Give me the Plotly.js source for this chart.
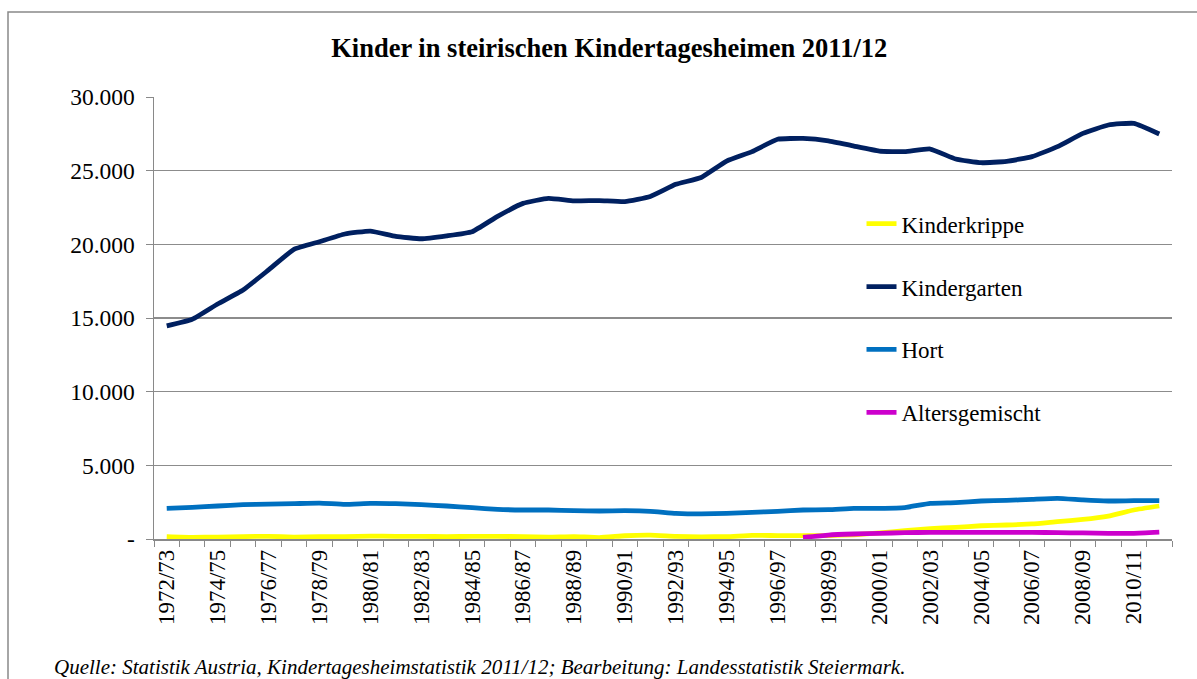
<!DOCTYPE html>
<html>
<head>
<meta charset="utf-8">
<script src="https://cdn.plot.ly/plotly-3.0.1.min.js"></script>
<style>html,body{margin:0;padding:0;background:#fff;}#chart{width:1197px;height:679px;}</style>
</head>
<body>
<div id="chart"></div>
<script>
const years = ["1972/73","1973/74","1974/75","1975/76","1976/77","1977/78","1978/79","1979/80","1980/81","1981/82",
  "1982/83","1983/84","1984/85","1985/86","1986/87","1987/88","1988/89","1989/90","1990/91","1991/92",
  "1992/93","1993/94","1994/95","1995/96","1996/97","1997/98","1998/99","1999/00","2000/01","2001/02",
  "2002/03","2003/04","2004/05","2005/06","2006/07","2007/08","2008/09","2009/10","2010/11","2011/12"];

const kinderkrippe = [160,110,130,160,180,130,160,160,200,180,
  180,160,180,180,160,130,160,100,220,260,
  180,150,160,250,230,230,230,290,410,570,
  700,790,900,950,1020,1180,1330,1560,1970,2240];

const kindergarten = [14460,14910,15950,16900,18260,19660,20180,20700,20900,20540,
  20380,20580,20860,21900,22780,23120,22950,22970,22900,23250,
  24070,24540,25650,26290,27130,27190,27030,26670,26330,26290,
  26470,25790,25540,25630,25950,26630,27530,28100,28210,27490];

const hort = [2080,2150,2240,2330,2370,2400,2440,2350,2420,2400,
  2330,2240,2130,2010,1970,1970,1920,1900,1920,1880,
  1740,1700,1740,1810,1880,1970,1990,2080,2080,2130,
  2420,2470,2580,2620,2690,2760,2650,2580,2600,2600];

const altersgemischt = [null,null,null,null,null,null,null,null,null,null,
  null,null,null,null,null,null,null,null,null,null,
  null,null,null,null,null,110,270,340,385,430,
  450,450,450,450,450,430,410,385,385,460];

const seriesNames = ["Kinderkrippe","Kindergarten","Hort","Altersgemischt"];
const seriesColors = ["#FFFF00","#002060","#0070C0","#CC00CC"];
const yTickVals = [0,5000,10000,15000,20000,25000,30000];
const yTickText = ["-","5.000","10.000","15.000","20.000","25.000","30.000"];
const xTickText = years.map((y,i) => i % 2 === 0 ? y : "");

const serif = "Liberation Serif";
const allSeries = [kinderkrippe, kindergarten, hort, altersgemischt];
const data = allSeries.map((vals, i) => ({
  type: "scatter", mode: "lines", x: years, y: vals, name: seriesNames[i],
  legendgroup: "g" + i,
  line: {color: seriesColors[i], width: 4.8, shape: "spline", smoothing: 0.4},
  connectgaps: false, hoverinfo: "x+y+name"
}));

const layout = {
  width: 1197, height: 679,
  paper_bgcolor: "#fff", plot_bgcolor: "#fff",
  margin: {l: 154, r: 25, t: 97, b: 140},
  font: {family: serif, color: "#000", size: 23},
  title: {text: "<b>Kinder in steirischen Kindertagesheimen 2011/12</b>",
    font: {family: serif, size: 26.5, color: "#000"},
    x: 0.509, xanchor: "center", y: 1 - 48/679, yanchor: "middle", xref: "container", yref: "container"},
  xaxis: {type: "category", tickmode: "array", tickvals: years, ticktext: xTickText,
    tickson: "boundaries", ticks: "outside", ticklen: 6, tickcolor: "#898989", tickwidth: 1,
    tickangle: -90, showgrid: false, showline: true, linecolor: "#898989", linewidth: 1.5,
    tickfont: {family: serif, size: 23, color: "#000"}, range: [-0.5, 39.5], zeroline: false,
    fixedrange: true},
  yaxis: {range: [0, 30000], tickmode: "array", tickvals: yTickVals, ticktext: yTickText,
    ticks: "outside", ticklen: 7, tickcolor: "#898989", showgrid: true, gridcolor: "#8c8c8c", gridwidth: 1.2,
    showline: true, linecolor: "#898989", linewidth: 1.5, zeroline: false,
    tickfont: {family: serif, size: 23.5, color: "#000"}, ticklabelstandoff: 6, fixedrange: true},
  legend: {x: 0.695, xanchor: "left", y: 0.762, yanchor: "top", bgcolor: "rgba(255,255,255,0)",
    font: {family: serif, size: 23, color: "#000"}, tracegroupgap: 30, traceorder: "grouped"},
  shapes: [{type: "rect", xref: "paper", yref: "paper",
    x0: (8 - 154) / 1018, x1: 1.2, y0: -0.4, y1: (539 - 12) / 442,
    line: {color: "#898989", width: 1.5}, fillcolor: "rgba(0,0,0,0)", layer: "below"}],
  annotations: [{xref: "paper", yref: "paper", x: (52 - 154) / 1018, y: (539 - 667) / 442,
    xanchor: "left", yanchor: "middle", showarrow: false,
    text: "<i>Quelle: Statistik Austria, Kindertagesheimstatistik 2011/12; Bearbeitung: Landesstatistik Steiermark.</i>",
    font: {family: serif, size: 21, color: "#000"}}]
};

Plotly.newPlot("chart", data, layout, {displayModeBar: false, staticPlot: true});
</script>
</body>
</html>
